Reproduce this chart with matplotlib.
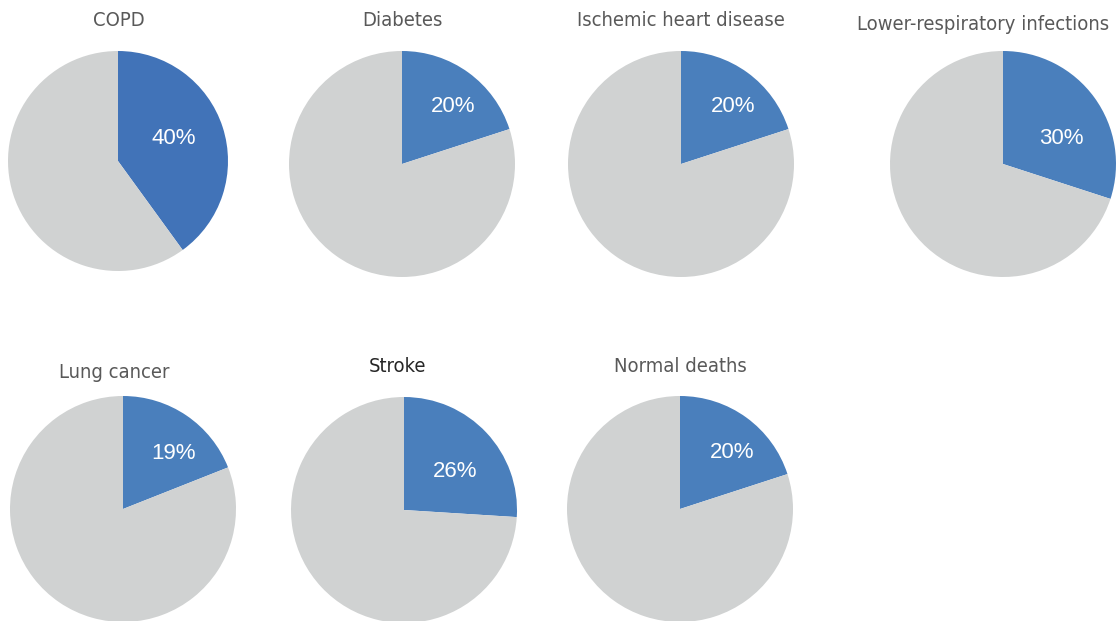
import matplotlib
matplotlib.use("Agg")
import matplotlib.pyplot as plt

# Share of deaths attributed to each cause
causes = ["COPD", "Diabetes", "Ischemic heart disease", "Lower-respiratory infections",
          "Lung cancer", "Stroke", "Normal deaths"]
shares = [40, 20, 20, 30, 19, 26, 20]

W, H = 1118, 621
fig = plt.figure(figsize=(W / 100, H / 100), dpi=100)
fig.patch.set_facecolor("white")

# pie centre x, centre y, radius (pixels from top-left)
layout = [
    (118, 161, 110),
    (402, 164, 113),
    (681, 164, 113),
    (1003, 164, 113),
    (123, 509, 113),
    (404, 510, 113),
    (680, 509, 113),
]
# percentage label placement inside each pie, in units of the radius
label_xy = [(0.51, 0.23), (0.45, 0.53), (0.46, 0.53), (0.52, 0.25),
            (0.45, 0.51), (0.45, 0.36), (0.46, 0.52)]
blue = ["#4173B8", "#4A7FBC", "#4A7FBC", "#4A7FBC", "#4A7FBC", "#4A7FBC", "#4A7FBC"]
grey = "#D0D2D2"
title_pos = [(119, 20), (402, 20), (681, 20), (983, 25), (114, 372), (397, 367), (680, 367)]
title_col = ["#595959", "#595959", "#595959", "#595959", "#595959", "#262626", "#595959"]

label_props = dict(color="white", fontsize=16, family=["Liberation Sans", "DejaVu Sans"],
                   fontstretch="normal")

for i, cause in enumerate(causes):
    cx, cy, r = layout[i]
    ax = fig.add_axes([(cx - r) / W, (H - cy - r) / H, 2 * r / W, 2 * r / H])
    v = shares[i]
    wedges, texts, autotexts = ax.pie(
        [v, 100 - v], colors=[blue[i], grey], startangle=90, counterclock=False,
        radius=1.0, autopct=lambda p: f"{p:.0f}%" if p < 50 else "",
        wedgeprops=dict(linewidth=0), textprops=label_props,
    )
    ax.set_xlim(-1, 1)
    ax.set_ylim(-1, 1)
    ax.set_aspect("equal")
    ax.axis("off")
    autotexts[0].set_position(label_xy[i])
    for t in autotexts:
        t.set_va("center_baseline")
    tx, ty = title_pos[i]
    fig.text(tx / W, 1 - ty / H, cause, ha="center", va="center", fontsize=14.5,
             color=title_col[i], family="DejaVu Sans", fontstretch="condensed")

fig.savefig("out.png", dpi=100, facecolor="white")
